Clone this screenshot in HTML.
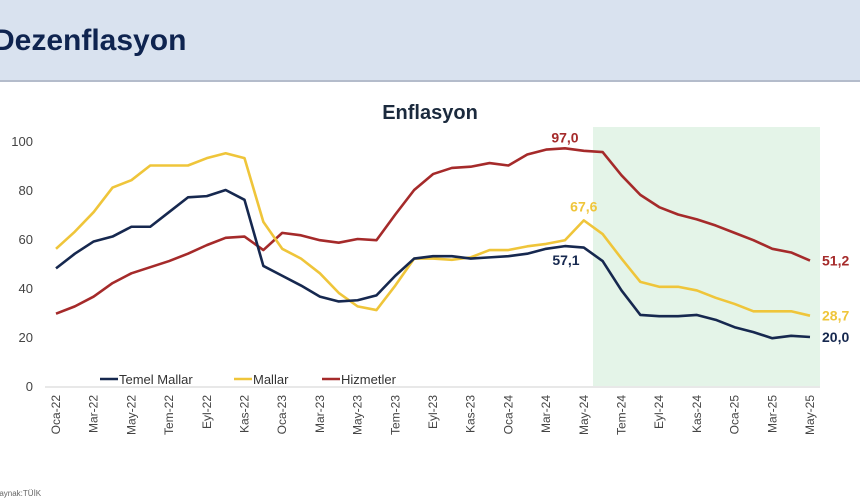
<!DOCTYPE html>
<html><head><meta charset="utf-8"><style>
body{margin:0;width:860px;height:504px;overflow:hidden;background:#fff;font-family:"Liberation Sans",sans-serif}
#hdr{position:absolute;left:0;top:0;width:860px;height:80px;background:#d9e2ef;border-bottom:2px solid #b4bccb}
#hdr span{position:absolute;left:-7px;top:24px;font-size:30px;font-weight:bold;color:#0f2450}
svg{position:absolute;left:0;top:0}
</style></head><body>
<div id="hdr"><span>Dezenflasyon</span></div>
<svg id="c" width="860" height="504"></svg>
<script>
const months=["Oca-22","Şub-22","Mar-22","Nis-22","May-22","Haz-22","Tem-22","Ağu-22","Eyl-22","Eki-22","Kas-22","Ara-22","Oca-23","Şub-23","Mar-23","Nis-23","May-23","Haz-23","Tem-23","Ağu-23","Eyl-23","Eki-23","Kas-23","Ara-23","Oca-24","Şub-24","Mar-24","Nis-24","May-24","Haz-24","Tem-24","Ağu-24","Eyl-24","Eki-24","Kas-24","Ara-24","Oca-25","Şub-25","Mar-25","Nis-25","May-25"];
const temel=[48,54,59,61,65,65,71,77,77.5,80,76,49,45,41,36.5,34.5,35,37,45,52,53,53,52,52.5,53,54,56,57.1,56.5,51,39,29,28.5,28.5,29,27,24,22,19.5,20.5,20.0];
const mallar=[56,63,71,81,84,90,90,90,93,95,93,67,56,52,46,38,32.5,31,41,52,52,51.5,52.5,55.5,55.5,57,58,59.5,67.6,62,52,42.5,40.5,40.5,39,36,33.5,30.5,30.5,30.5,28.7];
const hizmet=[29.5,32.5,36.5,42,46,48.5,51,54,57.5,60.5,61,55.5,62.5,61.5,59.5,58.5,60,59.5,70,80,86.5,89,89.5,91,90,94.5,96.5,97,96,95.5,86,78,73,70,68,65.5,62.5,59.5,56,54.5,51.2];
const yTicks=[0,20,40,60,80,100];
const NS="http://www.w3.org/2000/svg",svg=document.getElementById('c');
const X=i=>56+i*(810-56)/40, Y=v=>386-v*2.45;
function mk(t,a,p){const e=document.createElementNS(NS,t);for(const k in a)e.setAttribute(k,a[k]);(p||svg).appendChild(e);return e;}
let r=mk('rect',{x:593,y:127,width:227,height:259,fill:'#e4f4e8'});


let t=mk('text',{x:430,y:119,'text-anchor':'middle','font-size':20,'font-weight':'bold',fill:'#1b2a3d'});t.textContent='Enflasyon';


let ax=mk('line',{x1:45,x2:820,y1:387,y2:387,stroke:'#d0d0d0','stroke-width':1});


yTicks.forEach(v=>{let e=mk('text',{x:33,y:Y(v)+5,'text-anchor':'end','font-size':13,fill:'#444'});e.textContent=v;

});
months.forEach((m,i)=>{if(i%2)return;let e=mk('text',{transform:`translate(${X(i)+4},${395}) rotate(-90)`,'text-anchor':'end','font-size':12,fill:'#444'});e.textContent=m;

});
const series=[[hizmet,'#a52a2a','hizmetler-line'],[mallar,'#efc53a','mallar-line'],[temel,'#16284f','temel-mallar-line']];
series.forEach(([d,c,n])=>{let p=mk('polyline',{points:d.map((v,i)=>X(i)+','+Y(v)).join(' '),fill:'none',stroke:c,'stroke-width':2.6,'stroke-linejoin':'round'});

});
const labs=[[X(27),Y(97)-6,'97,0','#a52a2a','middle'],[X(28),Y(67.6)-9,'67,6','#efc53a','middle'],[X(27)+1,Y(57.1)+19,'57,1','#16284f','middle'],[822,Y(51.2)+5,'51,2','#a52a2a','start'],[822,Y(28.7)+5,'28,7','#efc53a','start'],[822,Y(20)+5,'20,0','#16284f','start']];
labs.forEach(([x,y,s,c,a])=>{let e=mk('text',{x:x,y:y,'text-anchor':a,'font-size':14,'font-weight':'bold',fill:c});e.textContent=s;

});
const leg=[[100,'#16284f','Temel Mallar'],[234,'#efc53a','Mallar'],[322,'#a52a2a','Hizmetler']];
leg.forEach(([x,c,s])=>{let g=mk('g',{});


mk('line',{x1:x,x2:x+18,y1:379,y2:379,stroke:c,'stroke-width':2.6},g);let e=mk('text',{x:x+19,y:384,'font-size':13,fill:'#333'},g);e.textContent=s;});
let s=mk('text',{x:-6,y:496,'font-size':8,fill:'#666'});s.textContent='Kaynak:TÜİK';


</script>
</body></html>
